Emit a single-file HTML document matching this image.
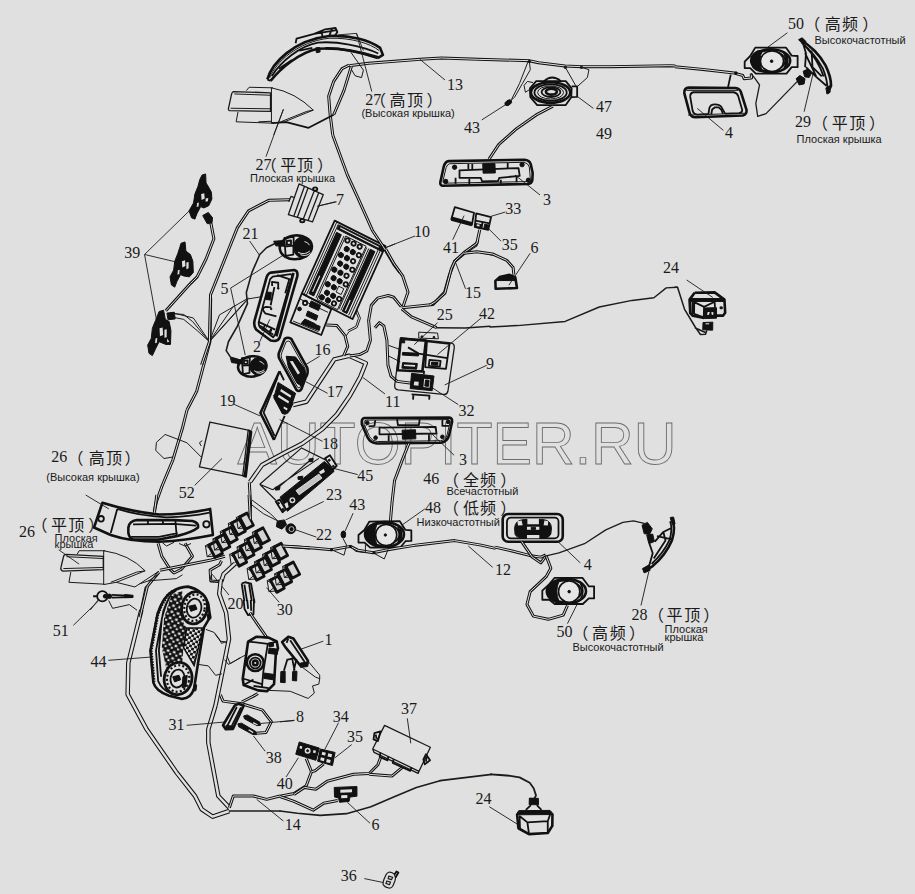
<!DOCTYPE html>
<html><head><meta charset="utf-8"><title>diagram</title>
<style>
html,body{margin:0;padding:0;background:#e0e0e0;}
svg{display:block}
.n{font-family:"Liberation Serif",serif;font-size:16px;fill:#1a1a1a}
.r{font-family:"Liberation Sans",sans-serif;font-size:11px;fill:#1a1a1a}
.c{font-family:"Liberation Sans","Noto Sans CJK SC",sans-serif;font-size:16px;fill:#1a1a1a}
.w{fill:none;stroke:#1c1c1c;stroke-width:1;vector-effect:non-scaling-stroke;stroke-linejoin:round;stroke-linecap:round}
.l{fill:none;stroke:#1a1a1a;stroke-width:.9;vector-effect:non-scaling-stroke}
.p{fill:none;stroke:#1a1a1a;stroke-width:1;vector-effect:non-scaling-stroke;stroke-linejoin:round}
.p2{fill:none;stroke:#111;stroke-width:1.8;vector-effect:non-scaling-stroke;stroke-linejoin:round}
.p3{fill:none;stroke:#111;stroke-width:2.6;vector-effect:non-scaling-stroke;stroke-linejoin:round}
.k{fill:#111;stroke:#111;stroke-width:1;vector-effect:non-scaling-stroke;stroke-linejoin:round}
.bg{fill:#e0e0e0}
.tb{fill:none;stroke:#111;stroke-width:3.0;vector-effect:non-scaling-stroke;stroke-linejoin:round;stroke-linecap:butt}
.bb{fill:none;stroke:#111;stroke-width:4.5;vector-effect:non-scaling-stroke;stroke-linejoin:round;stroke-linecap:butt}
.bi{fill:none;stroke:#e0e0e0;stroke-width:2.4;vector-effect:non-scaling-stroke;stroke-linejoin:round;stroke-linecap:butt}
.ti{fill:none;stroke:#e0e0e0;stroke-width:1.0;vector-effect:non-scaling-stroke;stroke-linejoin:round;stroke-linecap:butt}
.wm{font-family:"Liberation Sans",sans-serif;font-size:59px;fill:#e0e0e0;stroke:#6c6c6c;stroke-width:.9}
</style></head><body>
<svg width="915" height="894" viewBox="0 0 915 894">
<rect width="915" height="894" fill="#e0e0e0"/>
<text class="wm" transform="translate(237.5,464.3) scale(1.002,1)" x="0" y="0">AUTOPITER.RU</text>

<!-- region (0,0) -->
<g transform="translate(0,0) scale(.33333)">
<path class="l" d="M798,470 L850,328"/>
</g>
<!-- region (1,0) -->
<g transform="translate(305,0) scale(.33333)">
<path class="tb" d="M133,197 L190,190 L345,178 L410,174 L520,178 L672,182 L700,188 L780,198 L830,200 L915,200"/><path class="ti" d="M133,197 L190,190 L345,178 L410,174 L520,178 L672,182 L700,188 L780,198 L830,200 L915,200"/>
<path class="l" d="M345,178 L420,240 M605,312 L530,360 M815,288 L865,325 M630,525 L705,585 M40,618 L92,605 M237,745 L330,708"/>
</g>
<!-- region (2,0) -->
<g transform="translate(610,0) scale(.33333)">
<path class="tb" d="M0,200 L180,197 L196,198"/><path class="ti" d="M0,200 L180,197 L196,198"/>
</g>
<!-- region (0,1) -->
<g transform="translate(0,298) scale(.33333)">
<path class="tb" d="M632,0 L630,130 L590,280 L561,336"/><path class="ti" d="M632,0 L630,130 L590,280 L561,336"/>
<path class="w" d="M520,45 L580,60 L628,130 L745,0 M628,130 L700,25"/>
</g>
<!-- region (1,1) -->
<g transform="translate(305,298) scale(.33333)">
<path class="l" d="M460,320 L375,265"/>
</g>
<!-- region (0,2) -->
<g transform="translate(0,596) scale(.33333)">
<path class="bb" d="M424,42 L385,200 L383,295 L440,400 L530,530 L585,600 L605,640 L638,662 L688,645"/><path class="bi" d="M424,42 L385,200 L383,295 L440,400 L530,530 L585,600 L605,640 L638,662 L688,645"/>
<path class="bb" d="M647,327 L625,400 L625,440 L655,600 L688,635"/><path class="bi" d="M647,327 L625,400 L625,440 L655,600 L688,635"/>
<path class="w" style="stroke-width:1.6" d="M688,645 L840,645"/>
<path class="tb" d="M688,635 L700,600 L760,600 L800,610 L840,600"/><path class="ti" d="M688,635 L700,600 L760,600 L800,610 L840,600"/>
<path class="l" d="M220,88 L295,15 M850,675 L770,610 M325,193 L455,183 M560,388 L675,378"/>
</g>
<!-- region (1,2) -->
<g transform="translate(305,596) scale(.33333)">
<path class="w" style="stroke-width:1.7" d="M405,554 L430,551 L560,535"/>

</g>
<!-- region X [450,480] -->
<g transform="translate(450,480) scale(.33333)">
<path class="l" d="M128,262 L55,198"/>
</g>

<g>
<path class="bb" d="M293,405 L306.4,401.7 L334.3,359.4 L349.1,355.8 L365.8,363.2 L360.1,377.3 L350,395.5 L337,414.4 L322.5,429 L302.4,443.5 L284,453 L262,465 L250,482"/><path class="bi" d="M293,405 L306.4,401.7 L334.3,359.4 L349.1,355.8 L365.8,363.2 L360.1,377.3 L350,395.5 L337,414.4 L322.5,429 L302.4,443.5 L284,453 L262,465 L250,482"/>
<path class="l" d="M363,377.5 L385,394"/>
</g>
<g transform="translate(290,290) scale(.13423)">
<path class="tb" d="M270,260 L350,265 L410,340 L430,420 L400,490"/><path class="ti" d="M270,260 L350,265 L410,340 L430,420 L400,490"/>
<path class="w" d="M500,150 L525,210 L500,280 L440,310 L420,340 M490,160 L510,210 L490,270 L432,300"/>
</g>

<g transform="translate(225,20) scale(.18579)">
<!-- 27 high trim -->
<path class="p3" d="M228,320 C252,232 370,108 560,86 C680,80 780,110 835,150 L850,188 L822,205"/>
<path class="p" d="M240,312 C275,225 390,118 560,98 C680,95 780,125 830,165"/>
<path class="p2" d="M252,302 C300,225 400,140 500,122 C600,112 740,140 825,180"/>
<path class="p3" d="M245,328 C300,260 400,175 500,155 C600,148 720,170 822,205"/>
<path class="p2" d="M228,320 L245,328 M290,262 L360,215 M400,165 L470,150"/>
<path class="p2" d="M380,125 L385,100 L480,75 L540,50 L595,42 L605,65 L590,88 M520,62 L525,92 M575,48 L560,90 M480,75 L600,55"/>
<path class="k" d="M488,150 L510,148 L512,172 L492,176 Z"/>
<path class="p3" d="M540,152 C640,150 740,175 825,200"/>
<path class="l" d="M610,80 L708,72 L790,385 M708,72 L745,165"/>
<path class="p" d="M675,170 L745,270 L735,310 L700,300 L668,245"/>
<!-- wires near corner -->
<path class="tb" d="M668,243 L630,262 L585,330 L558,410 L565,500 L580,619"/><path class="ti" d="M668,243 L630,262 L585,330 L558,410 L565,500 L580,619"/>
<path class="tb" d="M680,250 L640,380 L585,510"/><path class="ti" d="M680,250 L640,380 L585,510"/>
<path class="p2" d="M250,555 L330,550 L450,580 L585,510"/>
<!-- 27 flat -->
<path class="p" style="stroke-width:1.3" d="M45,385 L245,392 L245,492 L25,488 Q15,485 20,470 L35,400 Q38,386 45,385Z"/>
<path class="p" d="M50,398 L245,405 M30,475 L245,478 M115,380 L130,362 L258,365 M70,495 L60,548 L250,555 M180,548 L250,545"/>
<path class="p" d="M250,365 L250,555 M250,365 Q380,390 475,485 L320,548 L250,555 M475,485 L440,492 L300,548"/>
<path class="l" d="M315,480 L262,619"/>
</g>

<g transform="translate(130,165) scale(.22371)">
<path class="k" d="M322,45 L338,40 L340,80 L352,100 L364,122 L366,152 L352,182 L330,192 L316,186 L300,216 L290,242 L275,236 L264,205 L284,170 L290,130 L304,95 L312,65Z"/>
<path class="bg" d="M318,130 L332,126 L334,150 L320,156Z M300,170 L308,168 L306,186 L298,188Z M338,150 L350,148 L348,162 L338,164Z"/>
<path class="k" d="M228,350 L246,344 L250,385 L270,400 L281,430 L283,480 L266,500 L240,496 L226,490 L210,520 L200,546 L185,536 L179,500 L195,470 L200,430 L214,395 L222,370Z"/>
<path class="bg" d="M232,430 L246,426 L248,452 L234,458Z M252,436 L262,434 L262,462 L252,466Z M214,470 L222,468 L220,488 L212,490Z"/>
<path class="k" d="M130,655 L150,649 L158,690 L175,700 L183,740 L181,802 L160,802 L130,790 L115,820 L100,852 L85,842 L79,805 L95,775 L100,730 L114,695Z"/>
<path class="bg" d="M132,730 L146,726 L148,760 L134,766Z M154,736 L164,734 L164,770 L154,772Z M114,775 L122,773 L120,795 L112,797Z M166,776 L176,790 L166,792Z"/>
<path class="k" d="M165,662 L198,658 L202,688 L170,692Z"/>
<path class="k" d="M325,226 L350,212 L369,236 L366,262 L345,262Z"/>
<path class="tb" d="M362,262 L375,330 L340,420 L300,500 L270,530 L160,652"/><path class="ti" d="M362,262 L375,330 L340,420 L300,500 L270,530 L160,652"/>
<path class="w" d="M200,665 L240,668 L280,700 L330,760 L355,790 M198,682 L240,690 L300,740 L355,790"/>
<path class="w" d="M355,790 L400,670 L520,600 L580,590 M355,790 L520,608"/>
<path class="tb" d="M320,894 L355,790 L360,580 L400,480 L440,380 L480,280 L530,205 L620,158 L715,155"/><path class="ti" d="M320,894 L355,790 L360,580 L400,480 L440,380 L480,280 L530,205 L620,158 L715,155"/>
<path class="w" style="stroke-width:1.6" d="M650,350 L610,370 L580,400 L545,480 L520,570 L525,620 L480,720 L440,790 L430,830 L450,860 L480,868"/>
<path class="l" d="M450,550 L690,400 M450,550 L515,850 M580,790 L625,690 M535,340 L578,402 M65,400 L265,205 M65,400 L200,432 M65,400 L118,690"/>
</g>

<g transform="translate(285,215) scale(.13423)">
<g transform="matrix(3.78,1.90,-2.45,5.43,370,42)">
<path class="p2" d="M0,0 L100,0 L100,100 L0,100Z"/>
<path class="p" d="M4.5,0 L4.5,100 M8.5,2 L8.5,100 M95,6 L95,100 M91,8 L91,98 M26,12 L26,97 M71,12 L71,97 M75,12 L75,97"/>
<path class="k" d="M10,2.5 L99,2.5 L99,8 L10,8Z"/>
<path class="bg" d="M14,4.2 L90,4.2 L90,5.6 L14,5.6Z"/>
<path class="k" d="M11.5,12 L21,12 L21,96 L11.5,96Z"/>
<path class="bg" d="M15,70 L17,70 L17,92 L15,92Z"/>
<path class="k" d="M78,12 L87,12 L87,97 L78,97Z"/>
<path class="bg" d="M81.5,80 L83.5,80 L83.5,95 L81.5,95Z"/>
<path class="p" d="M29,11 L69,11 L69,98 L29,98Z"/>
<ellipse class="p2" cx="35" cy="15" rx="3.8" ry="2.7"/>
<ellipse class="p2" cx="47" cy="15" rx="3.8" ry="2.7"/>
<ellipse class="p2" cx="59" cy="15" rx="3.8" ry="2.7"/>
<ellipse class="k" cx="40" cy="25" rx="4.6" ry="3.3"/>
<ellipse class="k" cx="52" cy="25" rx="4.6" ry="3.3"/>
<ellipse class="p2" cx="64" cy="25" rx="3.8" ry="2.7"/>
<ellipse class="k" cx="35" cy="35" rx="4.6" ry="3.3"/>
<ellipse class="k" cx="47" cy="35" rx="4.6" ry="3.3"/>
<ellipse class="p2" cx="59" cy="35" rx="3.8" ry="2.7"/>
<ellipse class="k" cx="40" cy="45" rx="4.6" ry="3.3"/>
<ellipse class="k" cx="52" cy="45" rx="4.6" ry="3.3"/>
<ellipse class="p2" cx="64" cy="45" rx="3.8" ry="2.7"/>
<ellipse class="k" cx="35" cy="55" rx="4.6" ry="3.3"/>
<ellipse class="k" cx="47" cy="55" rx="4.6" ry="3.3"/>
<ellipse class="p2" cx="59" cy="55" rx="3.8" ry="2.7"/>
<ellipse class="k" cx="40" cy="65" rx="4.6" ry="3.3"/>
<ellipse class="k" cx="52" cy="65" rx="4.6" ry="3.3"/>
<ellipse class="p2" cx="64" cy="65" rx="3.8" ry="2.7"/>
<ellipse class="k" cx="35" cy="75" rx="4.6" ry="3.3"/>
<ellipse class="k" cx="47" cy="75" rx="4.6" ry="3.3"/>
<rect class="p" x="54" y="71" width="10" height="8"/>
<ellipse class="k" cx="40" cy="85" rx="4.6" ry="3.3"/>
<ellipse class="k" cx="52" cy="85" rx="4.6" ry="3.3"/>
<ellipse class="p2" cx="64" cy="85" rx="3.8" ry="2.7"/>
<ellipse class="k" cx="35" cy="93" rx="4.6" ry="3.3"/>
<ellipse class="k" cx="47" cy="93" rx="4.6" ry="3.3"/>
<ellipse class="p2" cx="59" cy="93" rx="3.8" ry="2.7"/>
</g>
<path class="p2" d="M125,585 L345,700 L270,894 L40,800Z"/>
<path class="p" d="M110,625 L320,725 M60,790 L250,870"/>
<path class="k" d="M195,640 L265,672 L250,712 L180,680Z M170,715 L245,750 L232,785 L157,750Z M148,775 L225,810 L212,845 L120,808Z M225,815 L262,830 L255,860 L215,845Z"/>
<circle class="p2" cx="150" cy="655" r="16"/><circle class="k" cx="108" cy="700" r="14"/>
<path class="l" d="M745,245 L820,215"/>
</g>
<g transform="translate(240,175) scale(.17897)">
<!-- part 7 -->
<path class="p" style="stroke-width:1.3" d="M330,50 L465,110 L405,262 L270,222Z M360,64 L300,232 M380,73 L320,238 M415,88 L352,250 M440,99 L380,256 M300,125 L285,120 L272,150"/>
<ellipse class="p2" cx="420" cy="78" rx="12" ry="9"/><ellipse class="p2" cx="348" cy="255" rx="12" ry="9"/>
<path class="l" d="M430,175 L540,150"/>
<!-- wire passing top right -->
<path class="tb" d="M518,-224 L600,0 L660,130 L740,310 L800,400 L860,500 L894,545"/><path class="ti" d="M518,-224 L600,0 L660,130 L740,310 L800,400 L860,500 L894,545"/>
<!-- part 5 upper -->
<ellipse class="p3" cx="312" cy="404" rx="90" ry="66" transform="rotate(-6 312 404)"/>
<ellipse class="k" cx="350" cy="404" rx="52" ry="58"/>
<path d="M325,432 Q360,450 390,425 M338,445 Q368,458 394,436 M360,372 Q380,375 388,392" fill="none" stroke="#e0e0e0" stroke-width="1" vector-effect="non-scaling-stroke"/>
<path class="p2" d="M248,352 L300,346 L298,445 L255,452Z M250,400 L298,395"/>
<path class="bg" d="M262,368 L285,366 L285,388 L262,390Z"/>
<path class="p2" d="M262,368 L285,366 L285,388 L262,390Z"/>
<path class="k" d="M188,370 L246,366 L246,398 L200,396Z"/>
</g>

<g transform="translate(245,260) scale(.10067)">
<path class="p3" d="M260,125 L490,100 Q528,108 520,160 L345,770 Q330,805 290,805 L255,800 L110,690 Q82,650 96,598 L215,170 Q230,130 260,125Z"/>
<path class="p2" d="M275,165 L455,140 L470,152 L300,740 L280,768 L150,670 Q128,640 140,600 L250,190Z"/>
<path class="p3" d="M482,128 L312,758"/>
<path class="p2" d="M270,258 L268,218 L330,226 L330,280 M292,268 L255,450 M180,500 Q175,470 210,465 L262,470 M180,500 L200,530 L312,560 M320,150 L440,190 L400,330"/>
<circle class="k" cx="330" cy="282" r="8"/><circle class="k" cx="260" cy="486" r="8"/>
<path class="k" d="M215,318 L262,322 L255,398 L205,392Z"/>
<path class="p2" d="M130,612 L300,692 M150,652 L280,742 M200,642 L172,702 M262,682 L240,742"/>
<circle class="k" cx="255" cy="700" r="9"/>
</g>

<g transform="translate(340,240) scale(.17897)">
<path class="tb" d="M255,50 L300,130 L350,200 L380,290 L350,378"/><path class="ti" d="M255,50 L300,130 L350,200 L380,290 L350,378"/>
<path class="tb" d="M350,378 L520,360 L585,290 L610,200 L640,120 L700,70 L760,30 L770,0"/><path class="ti" d="M350,378 L520,360 L585,290 L610,200 L640,120 L700,70 L760,30 L770,0"/>
<path class="w" d="M700,72 L760,65 L894,95"/>
<path class="tb" d="M345,385 L400,430 L540,490"/><path class="ti" d="M345,385 L400,430 L540,490"/><path class="w" style="stroke-width:1.4" d="M540,490 L700,492 L838,482"/>
<path class="tb" d="M342,372 L300,320 L270,310 L210,325 L175,365 L160,450 L170,560 L150,620 L110,640 L55,648"/><path class="ti" d="M342,372 L300,320 L270,310 L210,325 L175,365 L160,450 L170,560 L150,620 L110,640 L55,648"/>
<path class="tb" d="M195,490 L220,462 L245,480 L262,560 L268,700 L285,760 L320,790 L400,800"/><path class="ti" d="M195,490 L220,462 L245,480 L262,560 L268,700 L285,760 L320,790 L400,800"/>
<path class="w" d="M275,590 L330,610 M275,650 L335,680"/>
<path class="l" d="M545,462 L415,585 M790,435 L545,640 M820,700 L585,810"/>
<!-- part 9 assembly -->
<path class="p" style="stroke-width:1.3" d="M340,545 L620,575 Q642,580 638,605 L603,845 Q598,865 578,862 L325,838 Q302,835 306,810Z"/>
<path class="p" d="M440,515 L545,520 L550,552 L440,548Z"/>
<circle class="k" cx="458" cy="540" r="5"/><circle class="k" cx="525" cy="543" r="5"/>
<path class="p3" d="M340,552 L480,562 L460,735 L322,728Z"/>
<path class="k" d="M350,628 L440,633 L438,648 L348,643Z M350,685 L432,690 L428,722 L346,716Z M345,560 L362,561 L361,575 L344,574Z"/>
<path class="bg" d="M358,695 L420,699 L419,708 L357,704Z"/>
<path class="p2" d="M380,600 L440,635 L600,660"/>
<path class="p2" d="M486,566 L612,580 L592,720 L476,710Z"/>
<path class="p2" d="M500,670 L562,675 L558,708 L496,703Z"/>
<path class="k" d="M512,682 L548,685 L546,700 L510,697Z"/>
<path class="k" d="M400,745 L525,760 L515,842 L392,830Z"/>
<path class="bg" d="M470,775 L505,778 L500,825 L466,822Z M415,790 L440,792 L438,815 L412,812Z"/>
<path class="k" d="M478,782 L498,784 L494,818 L474,816Z"/>
<path class="p2" d="M400,862 L500,870 L498,892 M410,865 L408,892"/>
<path class="p2" d="M440,730 L470,735 L468,750"/>
</g>

<g transform="translate(430,50) scale(.19672)">
<path class="w" d="M505,58 L510,100 L470,170 L430,240 L405,262 M498,60 L455,170 L415,250"/>
<ellipse class="k" cx="398" cy="268" rx="19" ry="12" transform="rotate(-35 398 268)"/>
<circle class="k" cx="505" cy="58" r="6"/><circle class="k" cx="688" cy="88" r="6"/><circle class="k" cx="770" cy="88" r="6"/>
<!-- speaker 47 -->
<path class="p2" d="M540,158 L690,158 L720,195 L718,240 L690,280 L545,280 L510,240 L508,195Z"/>
<path class="p2" d="M580,158 Q620,122 665,158"/>
<ellipse class="p3" cx="613" cy="216" rx="100" ry="52"/>
<ellipse class="p2" cx="613" cy="216" rx="82" ry="42"/>
<ellipse class="p" cx="613" cy="216" rx="66" ry="33"/>
<ellipse class="p2" cx="615" cy="214" rx="48" ry="25"/>
<ellipse class="p3" cx="617" cy="212" rx="28" ry="15"/>
<path class="p2" d="M720,185 L748,185 L748,238 L718,240"/>
<path class="w" d="M508,200 L485,215 L478,180 L495,160 L522,165"/>
<path class="w" d="M688,88 L740,180 M770,88 L808,100 L800,140 L750,185"/>
<path class="tb" d="M625,285 L540,330 L440,400 L350,480 L300,555"/><path class="ti" d="M625,285 L540,330 L440,400 L350,480 L300,555"/>
<!-- part 3 upper -->
<path class="p3" d="M95,565 L480,558 Q505,560 512,580 L522,625 L520,662 Q518,680 498,681 L62,690 Q50,688 53,670 L70,592 Q78,566 95,565Z"/>
<path class="p" d="M100,578 L478,571 Q500,575 505,595 L510,655 Q508,668 495,669 L72,677 Q64,675 66,665 L82,598 Q88,580 100,578Z"/>
<path class="p2" d="M150,612 L450,600 L456,640 L352,650 L346,666 L265,668 L258,650 L150,650Z"/>
<path class="k" d="M268,578 L330,577 L332,625 L270,626Z"/>
<circle class="k" cx="125" cy="596" r="11"/><circle class="k" cx="468" cy="583" r="11"/><circle class="k" cx="80" cy="668" r="11"/><circle class="k" cx="500" cy="662" r="11"/>
<path class="p2" d="M195,580 L195,605 M215,580 L215,605 M395,575 L395,600 M130,650 L130,680 M200,655 L200,682 M360,660 L360,680 M440,645 L440,672"/>
</g>

<g transform="translate(430,195) scale(.14208)">
<path class="p2" d="M175,85 L310,125 L295,210 L150,170Z"/>
<path class="p3" d="M150,172 L295,212 M152,160 L297,200"/>
<path class="p2" d="M325,130 L430,155 L410,245 L315,225Z M320,180 L420,200 M370,190 L362,238"/>
<path class="k" d="M318,200 L366,210 L360,238 L314,226Z M385,205 L415,212 L408,245 L378,240Z"/>
<path class="bg" d="M330,205 L350,209 L348,222 L328,218Z"/>
<path class="tb" d="M350,245 L330,340 L240,405 L175,465 L150,520 L105,690 L40,750 L0,774"/><path class="ti" d="M350,245 L330,340 L240,405 L175,465 L150,520 L105,690 L40,750 L0,774"/>
<path class="tb" d="M240,410 L330,400 L440,415 L540,460 L585,510 L590,560"/><path class="ti" d="M240,410 L330,400 L440,415 L540,460 L585,510 L590,560"/>
<path class="p3" d="M460,605 L490,578 L560,562 L600,578 L612,655 L462,660Z"/>
<path class="k" d="M490,578 L560,562 L600,578 L604,602 L475,602Z"/>
<path class="l" d="M430,150 L530,120 M410,235 L500,325 M240,145 L160,315 M555,635 L705,410 M178,470 L250,660"/>
</g>

<g transform="translate(490,260) scale(.27322)">
<path class="w" style="stroke-width:1.4" d="M0,245 L100,240 L275,225 L400,172 L520,148 L600,138 L645,102 L685,100"/>
</g>
<g transform="translate(675,280) scale(.072707)">
<path class="w" style="stroke-width:1.5" d="M0,100 L35,100 L130,400 L280,650 L350,750 L420,745 L435,700 M280,660 L420,722"/>
<path class="p3" d="M270,175 L545,170 L680,270 L690,450 L662,490 L560,490 M270,175 L200,270 L210,455 L245,492 L400,522"/>
<path class="k" d="M205,255 L675,255 L680,295 L205,295Z"/>
<path class="p2" d="M265,305 L400,370 L395,512 L262,465Z M400,370 L545,300 L550,380 M240,300 L238,470"/>
<path class="k" d="M405,385 L570,380 L572,525 L402,530Z"/>
<path class="bg" d="M450,440 L480,440 L465,480 L440,478Z M500,440 L530,445 L525,480 L505,478Z"/>
<path class="k" d="M385,585 L520,580 L518,690 L382,685Z M620,370 L650,370 L650,395 L620,395Z"/>
<path class="bg" d="M420,595 L470,595 L470,610 L420,610Z"/>
<path class="l" d="M160,0 L520,240"/>
</g>

<g transform="translate(675,30) scale(.18579)">
<path class="tb" d="M0,198 L150,212 L320,232 L365,245 L372,262 L412,258 L410,235"/><path class="ti" d="M0,198 L150,212 L320,232 L365,245 L372,262 L412,258 L410,235"/>
<circle class="k" cx="328" cy="232" r="7"/>
<path class="p2" d="M300,240 L285,310"/>
<!-- part 4 -->
<path class="p3" d="M75,310 L325,312 Q350,315 355,335 L385,430 Q388,455 365,460 L110,470 Q85,470 78,445 L50,340 Q48,312 75,310Z"/>
<path class="p2" d="M100,335 L315,335 Q335,338 340,355 L362,430 Q362,445 345,447 L270,450 L250,415 Q240,400 215,400 Q190,400 185,420 L180,452 L120,455 Q100,455 95,435 L82,360 Q80,338 100,335Z"/>
<path class="p2" d="M195,455 L200,428 L215,416 L235,416 L250,430 L258,452"/>
<path class="p" d="M62,325 L340,325 M70,458 L375,448"/>
<path class="l" d="M120,422 L260,540 M500,92 L605,15 M750,205 L695,440"/>
<!-- speaker 50 -->
<path class="p2" d="M432,95 L598,95 L628,138 L660,140 L660,200 L628,200 L600,235 L435,235 L405,205 L375,205 L375,170 L405,140Z"/>
<ellipse class="p3" cx="515" cy="166" rx="105" ry="62"/>
<ellipse class="p2" cx="505" cy="166" rx="88" ry="55"/>
<path class="k" d="M420,130 Q440,105 470,110 Q445,165 470,222 Q435,225 418,200 Q405,165 420,130Z"/>
<ellipse cx="522" cy="168" rx="62" ry="55" fill="#e6e6e6" stroke="#111" stroke-width="1.6" vector-effect="non-scaling-stroke"/>
<path class="p2" d="M585,120 Q610,165 585,215 M598,130 Q615,165 598,205"/>
<circle class="k" cx="520" cy="168" r="7"/>
<!-- wire to 29 -->
<path class="w" style="stroke-width:1.3" d="M410,235 L430,260 L455,295 L435,395 L445,465 L490,450 L660,275"/>
<path class="k" d="M652,262 L672,245 L700,262 L695,290 L668,296Z M690,222 L715,210 L735,232 L722,256 L698,252Z"/>
<!-- lamp 29 -->
<path class="p3" d="M670,50 Q760,100 810,190 Q840,250 840,300 L822,340"/>
<path class="p2" d="M682,68 Q750,125 795,205 Q820,265 822,322 M700,85 Q770,160 800,250 M690,75 L705,125 L700,200 M705,200 L760,252 L815,300 M700,125 L760,250 M735,110 L740,200 L790,250"/>
<path class="k" d="M665,52 L685,42 L705,62 L690,78Z M812,312 L832,300 L835,335 L818,345Z"/>
</g>

<g transform="translate(220,325) scale(.14541)">
<!-- 5 lower -->
<ellipse class="p3" cx="222" cy="285" rx="98" ry="70" transform="rotate(-6 222 285)"/>
<ellipse class="k" cx="262" cy="285" rx="56" ry="60"/>
<path d="M235,315 Q270,335 305,308 M250,328 Q280,342 308,320 M272,250 Q295,255 302,272" fill="none" stroke="#e0e0e0" stroke-width="1" vector-effect="non-scaling-stroke"/>
<path class="p2" d="M150,228 L205,222 L203,330 L158,338Z M152,280 L203,275"/>
<path class="p2" d="M165,245 L190,243 L190,266 L165,268Z"/>
<path class="k" d="M72,228 L148,240 L146,268 L80,258Z"/>
<path class="l" d="M685,215 L585,275 M740,470 L590,390 M95,545 L275,625 M705,800 L410,650"/>
<!-- 16 -->
<path class="p3" d="M445,95 Q465,80 490,95 L600,295 Q610,330 590,360 L560,440 Q545,465 525,445 L410,235 Q395,210 410,180Z"/>
<path class="p" d="M455,115 Q468,105 482,115 L585,300 Q592,328 578,352 L552,425 Q545,440 533,428 L425,232 Q415,212 425,190Z"/>
<path class="k" d="M455,215 L520,220 L580,300 L590,340 L560,420 L530,400 L470,290Z"/>
<path class="bg" d="M480,250 L500,248 L550,330 L535,340Z"/>
<!-- 17 -->
<path class="p3" d="M410,318 L278,605 L372,790"/>
<path class="p2" d="M372,790 L445,625 M410,318 L440,380 M395,362 L300,602 L375,762"/>
<path class="k" d="M400,395 L520,470 L480,590 L430,610 L370,500Z"/>
<path class="bg" d="M420,440 L490,485 L484,500 L414,455Z M405,480 L475,525 L470,540 L398,495Z M440,560 L465,575 L460,588 L436,573Z"/>
<path class="p2" d="M370,480 L430,602 Q445,618 465,602 L500,540"/>
<!-- band 11 -->
</g>

<g transform="translate(140,410) scale(.21858)">
<path class="tb" d="M215,0 L195,80 L150,230 L100,350 L75,420 L65,465"/><path class="ti" d="M215,0 L195,80 L150,230 L100,350 L75,420 L65,465"/>
<path class="p" style="stroke-width:1.3" d="M320,55 L495,92 L470,300 L272,260Z"/>
<path class="p2" d="M495,92 L510,100 L485,306 L470,300 M503,96 L478,303"/>
<path class="p" d="M285,140 L272,150 L280,165"/>
<path class="w" d="M280,215 L215,150 L115,112 L75,148 L72,185 L110,222 L150,215"/>
<path class="l" d="M375,222 L250,345"/>
</g>
<g transform="translate(245,435) scale(.12304)">
<path class="p" style="stroke-width:1.2" d="M120,400 L460,105 L650,200 M120,400 L250,530 M225,445 L600,190 M265,432 L540,197 M120,400 L225,445"/>
<path class="k" d="M285,505 L645,215 L725,295 L345,620Z"/>
<path d="M415,452 L600,318 L625,350 L440,486Z" fill="#c4c4c4" stroke="#e0e0e0" stroke-width="1" vector-effect="non-scaling-stroke"/>
<circle cx="385" cy="530" r="24" fill="#e0e0e0" stroke="#111" stroke-width="1"/>
<circle class="k" cx="385" cy="530" r="9"/>
<path class="bg" d="M600,300 L640,275 L650,300 L615,320Z M320,560 L345,545 L355,585 L335,598Z"/>
<path class="p2" d="M650,190 L690,165 L745,250 L715,282Z M250,540 L282,525 L332,605 L305,628Z"/>
<circle class="k" cx="685" cy="205" r="8"/><circle class="k" cx="718" cy="255" r="8"/><circle class="k" cx="272" cy="555" r="8"/><circle class="k" cx="308" cy="605" r="8"/>
<path class="k" d="M245,425 L285,420 L280,445 L248,448Z M520,195 L555,190 L550,215 L522,218Z M430,340 L470,335 L465,360 L432,362Z"/>
<path class="tb" d="M35,385 L45,560 L40,700"/><path class="ti" d="M35,385 L45,560 L40,700"/><path class="w" d="M45,560 L150,640 L270,700"/>
<!-- 22/23 -->
<path class="k" d="M262,700 L320,690 L338,730 L300,765 L255,745Z"/>
<circle class="k" cx="372" cy="762" r="40"/>
<circle cx="378" cy="765" r="20" fill="none" stroke="#e0e0e0" stroke-width=".8" vector-effect="non-scaling-stroke"/>
<path class="l" d="M640,540 L330,690 M580,830 L410,770"/>
</g>

<g transform="translate(55,495) scale(.18579)">
<!-- 26 high -->
<path class="p3" d="M255,42 Q400,88 560,105 Q700,105 835,75 L850,215 Q700,245 560,252 Q400,250 300,215 L210,175Z"/>
<path class="p2" d="M335,75 L300,205 M335,75 Q450,112 600,120 Q720,118 832,95"/>
<circle class="p2" cx="248" cy="128" r="15"/><circle class="p2" cx="815" cy="158" r="17"/>
<path class="p3" d="M395,175 Q400,140 440,135 L640,135 L740,140 Q775,150 770,175 Q740,200 660,220 L560,240 L420,240 Q390,230 395,175Z"/>
<path class="p2" d="M420,158 L640,155 L760,165 M410,225 L560,225 L660,205 M648,140 L655,222 M500,138 L500,158 M580,138 L582,156"/>
<path class="l" d="M165,0 L290,75 M20,295 L130,372 M232,565 L190,619"/>
<!-- wires -->
<path class="tb" d="M548,0 L535,95"/><path class="ti" d="M548,0 L535,95"/>
<path class="tb" d="M555,260 L575,330 L620,400 L640,420 L680,400 L740,330 L700,260"/><path class="ti" d="M555,260 L575,330 L620,400 L640,420 L680,400 L740,330 L700,260"/>
<path class="tb" d="M560,415 L490,500 L465,619"/><path class="ti" d="M560,415 L490,500 L465,619"/>
<path class="tb" d="M565,405 L840,350 L915,330"/><path class="ti" d="M565,405 L840,350 L915,330"/>
<path class="w" d="M580,258 L600,275 L640,255 M670,262 L700,275 L730,262"/>
<!-- 26 flat -->
<path class="p" style="stroke-width:1.3" d="M60,320 L260,330 L260,402 L42,410 Q28,405 32,390 L45,335 Q48,320 60,320Z"/>
<path class="p" d="M62,332 L260,342 M45,396 L260,390 M120,318 L130,300 L270,300 M85,415 L75,470 L265,480"/>
<path class="p" d="M262,300 L262,482 M262,300 Q400,320 485,408 L330,470 L262,482 M485,408 L440,415 L300,470 M330,470 L430,495 L560,410"/>
<!-- 51 -->
<circle class="p2" cx="255" cy="545" r="28"/>
<circle class="k" cx="270" cy="545" r="10"/><circle class="k" cx="293" cy="545" r="12"/>
<path class="p2" d="M205,545 L228,545 M305,538 L420,543 M305,552 L415,550"/>
<path class="k" d="M375,536 L420,540 L420,552 L375,552Z"/>
<path class="w" d="M290,570 L310,610 L400,590 L440,619"/>
</g>

<g transform="translate(190,495) scale(.13423)">
<defs><g id="sw"><path class="p" d="M-20,-52 L-75,-28 L-62,55 L-10,50 M-75,-28 L-40,-5 M-62,55 L-30,30"/><g transform="rotate(-28)"><rect x="-42" y="-62" width="84" height="124" rx="10" fill="#111"/><rect x="-20" y="-40" width="44" height="80" rx="4" fill="#d4d4d4"/></g></g></defs>
<use href="#sw" x="190" y="405"/>
<use href="#sw" x="245" y="355"/>
<use href="#sw" x="300" y="300"/>
<use href="#sw" x="360" y="240"/>
<use href="#sw" x="420" y="195"/>
<use href="#sw" x="370" y="470"/>
<use href="#sw" x="425" y="415"/>
<use href="#sw" x="480" y="360"/>
<use href="#sw" x="540" y="305"/>
<use href="#sw" x="500" y="575"/>
<use href="#sw" x="555" y="525"/>
<use href="#sw" x="615" y="470"/>
<use href="#sw" x="675" y="420"/>
<use href="#sw" x="650" y="665"/>
<use href="#sw" x="705" y="615"/>
<use href="#sw" x="765" y="560"/>
<path class="tb" d="M235,490 L220,520 L150,560 L155,640 L215,645"/><path class="ti" d="M235,490 L220,520 L150,560 L155,640 L215,645"/>
<path class="bb" d="M335,512 L250,590 L232,645"/><path class="bi" d="M335,512 L250,590 L232,645"/>
<path class="tb" d="M440,0 L450,180"/><path class="ti" d="M440,0 L450,180"/>
<path class="w" d="M465,40 L600,140 L650,190"/>
<path class="tb" d="M690,380 L894,395"/><path class="ti" d="M690,380 L894,395"/>
<path class="l" d="M165,590 L290,745 M570,690 L665,800"/>
<path class="p2" d="M385,660 L410,650 L455,660 L480,800 L478,782 M385,660 L405,790 M405,668 L425,790 M440,665 L460,790"/>

</g>
<g transform="translate(140,575) scale(.14541)">
<defs>
<pattern id="chk" width="36" height="36" patternUnits="userSpaceOnUse" patternTransform="rotate(12)"><rect width="36" height="36" fill="#e0e0e0"/><rect width="18" height="18" fill="#111"/><rect x="18" y="18" width="18" height="18" fill="#111"/></pattern>
<pattern id="chk2" width="44" height="44" patternUnits="userSpaceOnUse" patternTransform="rotate(15)"><rect width="44" height="44" fill="#111"/><rect x="4" y="4" width="18" height="16" fill="#e0e0e0"/><rect x="26" y="24" width="14" height="14" fill="#e0e0e0"/></pattern>
</defs>
<path class="p3" d="M330,80 Q430,100 470,200 L482,290 L440,360 L400,600 L372,780 Q350,850 290,852 L200,830 Q110,800 92,740 L72,520 L120,270 Q160,150 215,118 Q270,82 330,80Z"/>
<path d="M225,112 Q165,150 122,272 L76,520 L96,735" fill="none" stroke="#111" stroke-width="3.2" stroke-dasharray="1.6 1.2" vector-effect="non-scaling-stroke"/><path class="p2" d="M250,105 Q200,130 160,250 L110,520 L125,730 Q150,790 215,815 M215,135 Q180,180 150,300 L130,520 L145,700"/>
<path d="M215,135 L290,110 L300,330 L320,365 L300,500 L290,600 L180,640 L150,500 L165,300Z" fill="url(#chk2)" stroke="none"/>
<path d="M320,365 L435,365 L372,622 L300,500Z" fill="url(#chk)" stroke="#111" stroke-width="1.6" vector-effect="non-scaling-stroke"/>
<ellipse cx="375" cy="225" rx="88" ry="112" transform="rotate(12 375 225)" fill="#e0e0e0" stroke="#111" stroke-width="2.8" vector-effect="non-scaling-stroke"/>
<ellipse cx="375" cy="225" rx="70" ry="92" transform="rotate(12 375 225)" fill="none" stroke="#111" stroke-width="2.2" stroke-dasharray="2 2.2" vector-effect="non-scaling-stroke"/>
<ellipse class="p2" cx="372" cy="228" rx="50" ry="66" transform="rotate(12 372 228)"/>
<path class="k" d="M335,215 L380,205 L392,235 L350,250Z"/>
<ellipse cx="262" cy="712" rx="95" ry="112" transform="rotate(12 262 712)" fill="#e0e0e0" stroke="#111" stroke-width="2.8" vector-effect="non-scaling-stroke"/>
<ellipse cx="262" cy="712" rx="76" ry="92" transform="rotate(12 262 712)" fill="none" stroke="#111" stroke-width="2.2" stroke-dasharray="2 2.2" vector-effect="non-scaling-stroke"/>
<ellipse class="p2" cx="258" cy="712" rx="48" ry="62" transform="rotate(12 258 712)"/>
<path class="k" d="M225,700 L268,690 L280,720 L238,735Z M295,700 L325,690 L315,770 L290,775Z"/>
<path class="k" d="M462,270 L485,265 L488,300 L468,310Z M370,760 L390,755 L385,795 L365,800Z"/>
<!-- wires -->
<path class="bb" d="M556,30 L545,130 L592,260 L612,440 L572,640 L520,894"/><path class="bi" d="M556,30 L545,130 L592,260 L612,440 L572,640 L520,894"/>
<path class="w" d="M455,375 L510,395 L545,440 L560,470 L595,458 M400,615 L470,625 L520,690 L560,680"/>
<path class="w" d="M0,60 L60,40 L120,0 M60,40 L250,25 L290,0"/>
<path class="tb" d="M50,80 L0,290"/><path class="ti" d="M50,80 L0,290"/>

<path class="w" d="M480,0 L490,45 L545,40 M600,560 L620,610 L688,570"/>
</g>

<g transform="translate(215,600) scale(.17897)">
<!-- part 20 bottom + wire -->
<path class="p2" d="M160,0 L165,50 L185,85 L215,80 L218,0 M180,0 L185,50 M200,0 L202,60"/>
<path class="tb" d="M195,70 L210,95 L290,210"/><path class="ti" d="M195,70 L210,95 L290,210"/>
<!-- part 1 -->
<path class="p3" d="M185,232 L232,205 L300,210 L345,232 L352,270 L340,300 L330,470 L290,510 L240,505 L160,475 L155,440Z"/>
<path class="p2" d="M185,232 L295,245 L345,232 M295,245 L270,400 L262,490 M160,440 L262,470"/>
<circle class="p3" cx="225" cy="350" r="47"/><circle class="p2" cx="225" cy="352" r="30"/><circle class="p3" cx="225" cy="352" r="13"/>
<path class="k" d="M302,268 L352,275 L348,305 L298,298Z M275,408 L330,416 L328,446 L272,438Z M300,240 L325,238 L328,258 L302,260Z"/>
<path class="p2" d="M215,480 L300,492 M160,475 L215,445"/>
<!-- key cylinder -->
<path class="p3" d="M375,235 L410,205 L438,215 L520,340 L512,360 L480,370 L392,262Z"/>
<path class="p2" d="M420,225 L502,348 M400,240 L410,215"/>
<path class="k" d="M368,400 L392,398 L392,462 L366,460Z M434,400 L458,398 L456,452 L432,450Z M478,352 L522,347 L518,372 L478,376Z"/><path class="p2" d="M405,330 L385,395 M430,322 L445,395 M455,330 L440,395 M400,335 L445,325"/>
<path class="w" d="M480,370 L560,430 L585,440 L580,470 L545,480 L555,520 L520,550 L420,510 L300,505 M520,342 L585,420 L585,440"/>
<!-- left wires -->
<path class="w" d="M0,190 L30,230 L60,235 M55,335 L75,360 L165,310"/>
<path class="tb" d="M30,530 L45,565 L150,580 L265,615 L315,680 L285,740 L230,745"/><path class="ti" d="M30,530 L45,565 L150,580 L265,615 L315,680 L285,740 L230,745"/>
<path class="tb" d="M240,522 L215,537 L150,570"/><path class="ti" d="M240,522 L215,537 L150,570"/>
<!-- 31 -->
<path class="p3" d="M130,580 L160,590 L100,720 L60,722 L45,700 L110,590Z"/>
<path class="p2" d="M122,598 L68,705 M145,600 L92,708"/><path class="k" d="M62,700 L98,705 L95,722 L58,720Z"/>
<!-- 8, 38 -->
<path class="k" d="M160,648 L180,642 L250,682 L255,700 L235,702 L165,664Z M128,692 L148,688 L228,735 L232,752 L212,752 L132,708Z"/>
<path class="bg" d="M215,682 L240,695 L236,700 L212,688Z M190,722 L215,738 L212,744 L186,728Z"/>
<path class="l" d="M605,230 L480,275 M445,672 L255,690 M280,845 L215,760"/>
</g>

<g transform="translate(280,700) scale(.17486)">
<path class="k" d="M110,240 L225,275 L205,345 L90,310Z"/>
<circle cx="158" cy="290" r="17" fill="#e0e0e0"/><circle class="k" cx="158" cy="290" r="6"/>
<path class="bg" d="M115,262 L128,266 L124,280 L111,276Z M192,286 L206,290 L202,304 L188,300Z"/>
<path class="k" d="M230,280 L315,300 L300,375 L215,350Z"/>
<path class="bg" d="M242,296 L262,301 L258,318 L238,313Z M276,305 L298,310 L294,328 L272,323Z M234,328 L255,333 L251,350 L230,345Z M268,338 L290,343 L286,361 L264,356Z"/>
<path class="tb" d="M150,335 L180,410 L150,490 L80,535 L0,550"/><path class="ti" d="M150,335 L180,410 L150,490 L80,535 L0,550"/>
<path class="tb" d="M250,365 L200,405 L180,410"/><path class="ti" d="M250,365 L200,405 L180,410"/>
<path class="tb" d="M80,540 L140,500 L205,510 L270,465 L420,425 L510,420 L560,370 L575,330"/><path class="ti" d="M80,540 L140,500 L205,510 L270,465 L420,425 L510,420 L560,370 L575,330"/>
<path class="tb" d="M510,425 L640,435 L700,385"/><path class="ti" d="M510,425 L640,435 L700,385"/>
<path class="tb" d="M0,552 L80,580 L190,630 L250,590 L330,575"/><path class="ti" d="M0,552 L80,580 L190,630 L250,590 L330,575"/>
<path class="w" style="stroke-width:1.6" d="M0,635 L100,648 L230,660 L380,650 L520,610 L650,555 L780,500 L915,462"/>
<!-- 6 lower -->
<path class="k" d="M310,500 L440,495 L440,550 L400,555 L395,580 L340,585 L335,560 L312,555Z"/>
<path class="bg" d="M345,513 L412,511 L412,528 L345,530Z M350,545 L385,543 L385,560 L350,562Z"/>
<!-- 37 -->
<path class="p" style="stroke-width:1.3" d="M598,145 L860,270 L795,408 L530,280Z M530,280 L538,300 L790,420 L795,408"/>
<path class="p2" d="M540,190 L575,180 L560,235 L535,225Z M835,310 L858,345 L828,368 L820,340Z M548,198 L552,222 M838,325 L835,352"/>
<path class="p2" d="M575,300 L570,325 L615,345 L620,322 M650,338 L645,360 L745,405 L752,385"/>
<path class="l" d="M728,105 L748,248 M335,130 L255,285 M410,255 L315,330 M35,440 L105,330 M515,705 L385,585 M0,125 L80,118"/>
</g>

<g transform="translate(335,410) scale(.16779)">
<path class="p3" d="M175,48 L680,45 Q700,48 698,70 L680,150 Q670,190 630,195 L250,200 Q210,195 195,165 L160,85 Q155,52 175,48Z"/>
<path class="p" d="M185,60 L675,57 Q688,60 686,72 L668,148 Q660,180 628,183 L252,188 Q220,184 207,160 L173,85 Q170,62 185,60Z"/>
<path class="p2" d="M265,105 L600,100 L605,140 L265,145Z M370,55 L375,90 L500,90 L505,55 M240,60 L235,95 L200,98 M640,58 L640,95 L680,95 M320,145 L320,185 M560,142 L560,185"/>
<path class="k" d="M400,120 L480,118 L482,172 L402,174Z"/>
<circle class="k" cx="192" cy="76" r="11"/><circle class="k" cx="674" cy="70" r="11"/><circle class="k" cx="242" cy="165" r="11"/><circle class="k" cx="640" cy="160" r="11"/>
<path class="tb" d="M440,200 L400,300 L355,420 L340,550 L330,665"/><path class="ti" d="M440,200 L400,300 L355,420 L340,550 L330,665"/>
<!-- 48 -->
<path class="p2" d="M205,665 L385,662 L420,715 L455,718 L455,780 L420,782 L390,818 L210,820 L175,790 L140,790 L140,745 L175,715Z"/>
<ellipse class="p3" cx="295" cy="742" rx="116" ry="74"/>
<ellipse class="p2" cx="285" cy="742" rx="98" ry="66"/>
<path class="k" d="M195,700 Q215,675 250,680 Q225,740 250,805 Q212,805 192,780 Q180,740 195,700Z"/>
<circle cx="305" cy="745" r="63" fill="#e6e6e6" stroke="#111" stroke-width="1.6" vector-effect="non-scaling-stroke"/>
<path class="p2" d="M375,695 Q400,742 375,792 M388,705 Q405,742 388,782"/>
<circle class="k" cx="300" cy="745" r="7"/>
<ellipse class="k" cx="50" cy="742" rx="14" ry="21"/>
<path class="l" d="M108,615 L60,722 M535,590 L400,685 M710,270 L575,140 M135,385 L0,350"/>
</g>

<g transform="translate(290,520) scale(.25137)">
<path class="tb" d="M0,105 L100,112 L165,118 L240,105 L270,120 L330,130 L390,118 L500,100 L655,82 L760,100 L818,113"/><path class="ti" d="M0,105 L100,112 L165,118 L240,105 L270,120 L330,130 L390,118 L500,100 L655,82 L760,100 L818,113"/>
<path class="w" d="M165,118 L215,140 L225,100 L212,75 M240,105 L262,125 L300,130 L300,100 M330,130 L375,155 L390,118"/>
<circle class="k" cx="165" cy="118" r="4"/><circle class="k" cx="240" cy="105" r="4"/><circle class="k" cx="335" cy="130" r="4"/>
</g>

<g transform="translate(495,500) scale(.21311)">
<rect class="p3" x="36" y="66" width="282" height="130" rx="26"/>
<rect class="p2" x="56" y="83" width="242" height="97" rx="18"/>
<path class="k" d="M92,130 Q95,95 135,92 L225,92 Q262,95 265,130 L262,160 Q255,178 230,178 L125,178 Q98,175 94,160Z"/>
<path class="bg" d="M152,88 L206,88 L206,114 L152,114Z M150,126 L208,126 L208,140 L150,140Z M150,164 L208,164 L208,180 L150,180Z M105,100 L125,96 L130,118 L108,120Z M232,96 L250,100 L248,120 L228,118Z"/>
<path class="k" d="M170,128 L190,128 L190,138 L170,138Z"/>
<path class="tb" d="M0,221 L80,239 L170,262 L215,268 L238,258"/><path class="ti" d="M0,221 L80,239 L170,262 L215,268 L238,258"/>
<path class="tb" d="M125,195 L175,268 L215,295 L240,262"/><path class="ti" d="M125,195 L175,268 L215,295 L240,262"/>
<path class="tb" d="M240,262 L262,320 L240,360 L165,430 L150,490 L180,545 L250,560 L320,540 L340,495"/><path class="ti" d="M240,262 L262,320 L240,360 L165,430 L150,490 L180,545 L250,560 L320,540 L340,495"/>
<path class="w" style="stroke-width:1.3" d="M240,262 L300,248 L420,205 L520,140 L600,105 L650,98 L700,110"/>
<!-- speaker 50 lower -->
<path class="p2" d="M280,365 L410,365 L440,405 L465,405 L465,462 L440,462 L412,488 L280,488 L255,468 L222,468 L222,425 L255,395Z"/>
<ellipse class="p3" cx="335" cy="428" rx="92" ry="58"/>
<ellipse class="p2" cx="328" cy="428" rx="78" ry="50"/>
<path class="k" d="M258,398 Q275,378 300,382 Q280,428 300,475 Q272,478 255,458 Q245,428 258,398Z"/>
<circle cx="348" cy="430" r="50" fill="#e6e6e6" stroke="#111" stroke-width="1.6" vector-effect="non-scaling-stroke"/>
<path class="p2" d="M402,392 Q422,428 402,466"/>
<circle class="k" cx="348" cy="430" r="6"/>
<!-- lamp 28 -->
<path class="k" d="M690,118 L715,105 L738,135 L725,162 L700,158Z M712,165 L740,160 L748,195 L722,205Z"/>
<path class="p3" d="M830,85 Q850,130 830,190 Q800,260 740,310 L700,335"/>
<path class="p2" d="M822,100 Q835,140 818,190 Q790,250 735,300 M725,205 L740,250 L720,320 M750,195 L790,150 L830,130 M790,150 L800,190 L745,275 M760,170 L830,185"/>
<path class="k" d="M822,82 L838,80 L845,112 L832,115Z M692,322 L722,305 L728,330 L700,342Z"/>
<path class="l" d="M400,295 L295,195 M685,495 L722,335 M340,580 L385,490"/>
</g>

<g transform="translate(500,775) scale(.0783)">
<path class="w" style="stroke-width:1.8" d="M-120,-8 L0,0 L130,10 L250,30 L380,100 L430,170 L460,260 L440,300"/>
<path class="k" d="M375,295 L490,298 L492,380 L372,378Z"/>
<path class="p2" d="M395,385 L330,445 M470,385 L530,445"/>
<path class="k" d="M215,492 L240,455 L640,452 L672,490 L672,505 L215,508Z"/>
<path class="p3" d="M218,495 L235,680 L370,755 L610,740 L668,650 L670,495"/>
<path class="p2" d="M245,520 L350,605 L610,590 L640,505 M350,605 L370,752 M610,590 L610,738 M250,525 L255,685"/>
<path class="l" d="M-137,405 L225,630"/>
</g>

<g transform="translate(370,860) scale(.043716)">
<path class="p" style="stroke-width:1.2" d="M430,280 Q500,265 560,330 Q600,400 570,480 L520,600 Q490,650 430,640 Q330,620 300,560 Q290,520 320,440 L370,330 Q390,290 430,280Z"/>
<path class="p" style="stroke-width:1.2" d="M430,370 L520,395 L490,450 L415,425Z M385,480 L470,505 L445,565 L365,535Z"/>
<path class="p2" d="M560,330 L605,262 L650,285 L585,400"/>
<path class="l" d="M-130,425 L300,515"/>
</g>

<g id="labels">
<text class="n" x="447" y="90">13</text>
<text class="n" x="365.2" y="105.4">27</text>
<text class="r" x="361.4" y="117.2">(Высокая крышка)</text>
<text class="n" x="255.6" y="170.4">27</text>
<text class="r" x="250" y="181.5">Плоская крышка</text>
<text class="n" x="336" y="205">7</text>
<text class="n" x="242.5" y="239">21</text>
<text class="n" x="414" y="236.5">10</text>
<text class="n" x="124.3" y="257.6">39</text>
<text class="n" x="443" y="252.6">41</text>
<text class="n" x="220.4" y="294.4">5</text>
<text class="n" x="436.8" y="320">25</text>
<text class="n" x="253" y="352">2</text>
<text class="n" x="314.5" y="354.8">16</text>
<text class="n" x="327" y="396.5">17</text>
<text class="n" x="385" y="406.6">11</text>
<text class="n" x="219.4" y="405.6">19</text>
<text class="n" x="322" y="449">18</text>
<text class="n" x="788.1" y="29.2">50</text>
<text class="r" x="814.5" y="43.6">Высокочастотный</text>
<text class="n" x="596" y="111.7">47</text>
<text class="n" x="464" y="133">43</text>
<text class="n" x="596" y="139.4">49</text>
<text class="n" x="725" y="138.4">4</text>
<text class="n" x="794.9" y="126.6">29</text>
<text class="r" x="796.6" y="142.7">Плоская крышка</text>
<text class="n" x="543" y="204.8">3</text>
<text class="n" x="505.3" y="214.4">33</text>
<text class="n" x="501.8" y="250">35</text>
<text class="n" x="530.5" y="253">6</text>
<text class="n" x="465" y="298">15</text>
<text class="n" x="479" y="318.6">42</text>
<text class="n" x="663" y="273.3">24</text>
<text class="n" x="486" y="369">9</text>
<text class="n" x="458.5" y="416">32</text>
<text class="n" x="51.2" y="462.4">26</text>
<text class="r" x="46.3" y="480.7">(Высокая крышка)</text>
<text class="n" x="18.9" y="536.5">26</text>
<text class="r" x="54.6" y="541.6">Плоская</text>
<text class="r" x="54.6" y="548.3">крышка</text>
<text class="n" x="178.7" y="497.8">52</text>
<text class="n" x="357.3" y="480.7">45</text>
<text class="n" x="326" y="500.4">23</text>
<text class="n" x="349.3" y="510">43</text>
<text class="n" x="316" y="539.6">22</text>
<text class="n" x="423.3" y="484.4">46</text>
<text class="r" x="446.5" y="495.4">Всечастотный</text>
<text class="n" x="425" y="512.9">48</text>
<text class="r" x="416.6" y="526">Низкочастотный</text>
<text class="n" x="459" y="465">3</text>
<text class="n" x="227.5" y="608.6">20</text>
<text class="n" x="276.8" y="615">30</text>
<text class="n" x="52.8" y="636">51</text>
<text class="n" x="90.6" y="667">44</text>
<text class="n" x="324.6" y="645">1</text>
<text class="n" x="168.6" y="730">31</text>
<text class="n" x="296" y="721.8">8</text>
<text class="n" x="265.7" y="762.6">38</text>
<text class="n" x="332.7" y="721.8">34</text>
<text class="n" x="347" y="742">35</text>
<text class="n" x="401" y="714">37</text>
<text class="n" x="276.8" y="788.7">40</text>
<text class="n" x="284.8" y="829.5">14</text>
<text class="n" x="371.4" y="829.5">6</text>
<text class="n" x="340.7" y="880.8">36</text>
<text class="n" x="495" y="574.8">12</text>
<text class="n" x="583.8" y="569.8">4</text>
<text class="n" x="631.4" y="620.1">28</text>
<text class="r" x="664.6" y="633.4">Плоская</text>
<text class="r" x="664.6" y="641.2">крышка</text>
<text class="n" x="556.5" y="637.2">50</text>
<text class="r" x="572.5" y="651.1">Высокочастотный</text>
<text class="n" x="475.6" y="803.8">24</text>
</g>

<g id="cj">
<text class="c" x="370 389.5 407.1 426.4" y="105.9">（高顶）</text>
<text class="c" x="260.8 280.2 297.1 317.1" y="170.9">（平顶）</text>
<text class="c" x="804.3 824.7 842 862.3" y="29.7">（高频）</text>
<text class="c" x="812 831.7 849.2 868.9" y="128.9">（平顶）</text>
<text class="c" x="67.4 88.7 106 124.5" y="464.2">（高顶）</text>
<text class="c" x="31.6 51.1 68.2 88.3" y="530.8">（平顶）</text>
<text class="c" x="443 463 479.9 500.2" y="485.7">（全频）</text>
<text class="c" x="443 463.1 479.9 500.2" y="514.2">（低频）</text>
<text class="c" x="648 666.5 684.2 703.2" y="621.4">（平顶）</text>
<text class="c" x="572.4 592.1 609.7 628.9" y="638.7">（高频）</text>
</g>

</svg></body></html>
